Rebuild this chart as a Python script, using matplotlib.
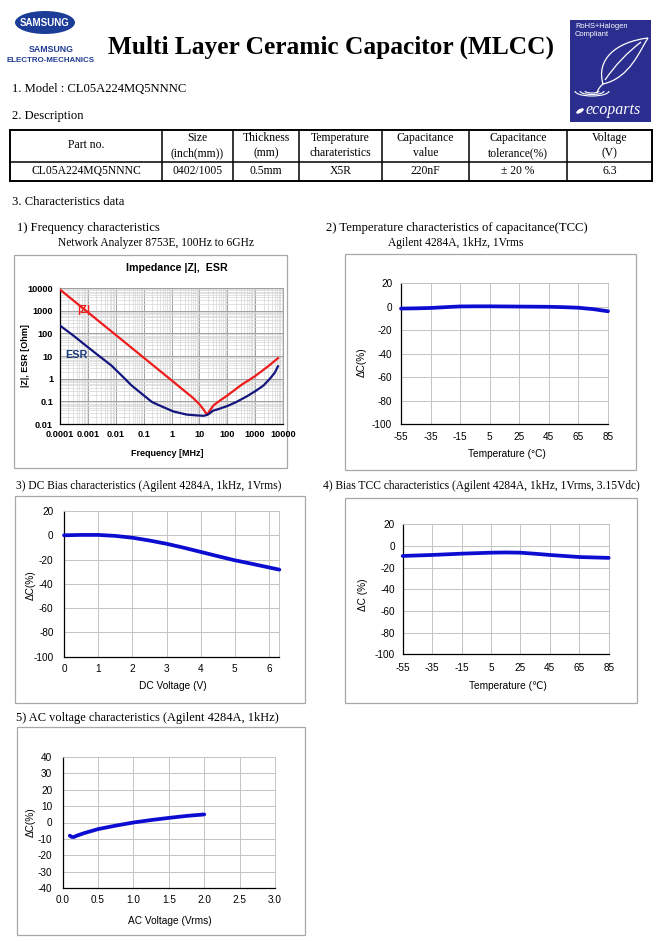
import matplotlib
matplotlib.use("Agg")
import matplotlib.pyplot as plt
from matplotlib.patches import Rectangle, Ellipse, Arc, PathPatch
from matplotlib.path import Path
from matplotlib.lines import Line2D

# ---------------- data ----------------
model = "CL05A224MQ5NNNC"
table_header = ["Part no.", "Size\n(inch(mm))", "Thickness\n(mm)", "Temperature\ncharateristics",
                "Capacitance\nvalue", "Capacitance\ntolerance(%)", "Voltage\n(V)"]
table_row = ["CL05A224MQ5NNNC", "0402/1005", "0.5mm", "X5R", "220nF", "\u00b1 20 %", "6.3"]

# 1) impedance / ESR vs frequency (MHz)
freq_z = [1e-4, 1e-3, 1e-2, 1e-1, 1, 3, 6, 10, 14, 17, 19, 24, 32, 50, 100, 300, 1000, 3000, 6600]
z_vals = [8500, 850, 85, 8.5, 0.85, 0.28, 0.14, 0.075, 0.044, 0.031, 0.026, 0.04, 0.066, 0.1,
          0.18, 0.5, 1.3, 3.6, 8.0]
freq_esr = [1e-4, 3e-4, 1e-3, 3e-3, 7e-3, 0.02, 0.037, 0.1, 0.2, 0.5, 1.15, 3.5, 8, 14, 19, 24,
            30, 47, 100, 210, 500, 1100, 2000, 3400, 5000, 6600]
esr_vals = [220, 80, 24.5, 8.5, 3.8, 1.07, 0.5, 0.185, 0.093, 0.056, 0.036, 0.026, 0.024, 0.023,
            0.025, 0.03, 0.038, 0.045, 0.062, 0.093, 0.165, 0.3, 0.5, 1.0, 1.8, 3.5]
freq_ticks = [1e-4, 1e-3, 1e-2, 1e-1, 1, 10, 100, 1000, 10000]
freq_labels = ["0.0001", "0.001", "0.01", "0.1", "1", "10", "100", "1000", "10000"]
imp_ticks = [0.01, 0.1, 1, 10, 100, 1000, 10000]
imp_labels = ["0.01", "0.1", "1", "10", "100", "1000", "10000"]

# 2) TCC
tcc_temp = [-55, -45, -35, -25, -15, -5, 5, 15, 25, 35, 45, 55, 65, 75, 85]
tcc_dc = [-1.5, -1.3, -1.0, -0.3, 0.3, 0.4, 0.4, 0.3, 0.2, 0.1, 0.0, -0.3, -0.8, -2.0, -3.8]
temp_ticks = [-55, -35, -15, 5, 25, 45, 65, 85]
temp_labels = ["-55", "-35", "-15", "5", "25", "45", "65", "85"]
pct_ticks = [-100, -80, -60, -40, -20, 0, 20]
pct_labels = ["-100", "-80", "-60", "-40", "-20", "0", "20"]

# 3) DC bias
dc_v = [0, 0.5, 1.0, 1.5, 2.0, 2.5, 3.0, 3.5, 4.0, 4.5, 5.0, 5.5, 6.0, 6.3]
dc_dc = [0, 0.3, 0.3, -0.5, -2.0, -4.3, -7.0, -10.2, -13.7, -17.2, -20.6, -23.5, -26.5, -28.3]
dc_ticks = [0, 1, 2, 3, 4, 5, 6]
dc_labels = ["0", "1", "2", "3", "4", "5", "6"]

# 4) Bias TCC
btcc_temp = [-55, -35, -15, 5, 15, 25, 35, 45, 65, 85]
btcc_dc = [-9.2, -8.3, -7.1, -6.2, -6.0, -6.2, -7.2, -8.3, -10.2, -11.0]

# 5) AC voltage
ac_v = [0.1, 0.13, 0.16, 0.2, 0.3, 0.5, 0.75, 1.0, 1.25, 1.5, 1.75, 2.0]
ac_dc = [-8.0, -8.8, -8.8, -8.0, -6.5, -4.0, -1.9, 0.0, 1.5, 2.8, 4.0, 4.9]
ac_ticks = [0.0, 0.5, 1.0, 1.5, 2.0, 2.5, 3.0]
ac_labels = ["0.0", "0.5", "1.0", "1.5", "2.0", "2.5", "3.0"]
ac_pct_ticks = [-40, -30, -20, -10, 0, 10, 20, 30, 40]
ac_pct_labels = ["-40", "-30", "-20", "-10", "0", "10", "20", "30", "40"]

# ---------------- figure helpers ----------------
W, H = 664, 941
plt.rcParams["font.family"] = ["Liberation Sans", "DejaVu Sans"]
fig = plt.figure(figsize=(W / 100, H / 100), dpi=100)
SERIF = ["Liberation Serif", "DejaVu Serif"]


def P(x, y):
    return (x / W, 1 - y / H)


def ftext(x, y, s, size=9, ha="left", family=SERIF, **kw):
    return fig.text(x / W, 1 - y / H, s, ha=ha, va="center", fontsize=size, family=family, **kw)


def add_axes_px(x0, y0, x1, y1):
    return fig.add_axes([x0 / W, 1 - y1 / H, (x1 - x0) / W, (y1 - y0) / H])


def box_px(x0, y0, x1, y1, ec="#a8a8a8", lw=0.9, fc="none", z=0):
    fig.add_artist(Rectangle(P(x0, y1), (x1 - x0) / W, (y1 - y0) / H, transform=fig.transFigure,
                             fill=(fc != "none"), fc=fc, ec=ec, lw=lw, zorder=z))


def hline(x0, x1, y, lw=1.0, color="black"):
    fig.add_artist(Line2D([x0 / W, x1 / W], [1 - y / H, 1 - y / H], transform=fig.transFigure,
                          color=color, lw=lw))


def vline(x, y0, y1, lw=1.0, color="black"):
    fig.add_artist(Line2D([x / W, x / W], [1 - y0 / H, 1 - y1 / H], transform=fig.transFigure,
                          color=color, lw=lw))


# ---------------- header ----------------
NAVY = "#1f3a93"
fig.add_artist(Ellipse(P(45, 22.5), 60 / W, 23 / H, transform=fig.transFigure, fc="#1b3c97", ec="none"))
ftext(45, 22.5, "SAMSUNG", size=7.0, ha="center", family=["Liberation Sans"], color="white", weight="bold")
ftext(51, 50, "SAMSUNG", size=6.3, ha="center", family=["Liberation Sans"], color=NAVY, weight="bold")
ftext(51, 61, "ELECTRO-MECHANICS", size=5.7, ha="center", family=["Liberation Sans"], color=NAVY, weight="bold")

ftext(108, 47, "Multi Layer Ceramic Capacitor (MLCC)", size=18.3, weight="bold")

# RoHS / ecoparts badge
box_px(570, 20, 651, 122, ec="none", fc="#2b2e8f", z=1)
ftext(575, 27, "RoHS+Halogen", size=5.4, family=["Liberation Sans"], color="white", zorder=3)
ftext(575, 35, "Compliant", size=5.4, family=["Liberation Sans"], color="white", zorder=3)
leaf_pts = [(603, 84), (596, 60), (615, 42), (648, 38), (640, 50), (630, 78), (603, 84),
            (605, 80), (620, 58), (641, 42), (603, 84), (598, 88), (597, 93)]
leaf_codes = [Path.MOVETO, Path.CURVE4, Path.CURVE4, Path.CURVE4, Path.CURVE4, Path.CURVE4, Path.CURVE4,
              Path.MOVETO, Path.CURVE3, Path.CURVE3, Path.MOVETO, Path.CURVE3, Path.CURVE3]
leaf = Path([P(x, y) for x, y in leaf_pts], leaf_codes)
fig.add_artist(PathPatch(leaf, transform=fig.transFigure, fc="none", ec="white", lw=0.9, zorder=3))
for w, h in [(14, 4), (24, 7), (34, 10)]:
    fig.add_artist(Arc(P(592, 91), w / W, h / H, theta1=180, theta2=360, transform=fig.transFigure,
                       color="white", lw=0.8, zorder=3))
fig.add_artist(Ellipse(P(580, 111), 8 / W, 4 / H, angle=20, transform=fig.transFigure, fc="white",
                       ec="none", zorder=3))
ftext(585, 110, "ecoparts", size=11.5, family=SERIF, style="italic", color="white", zorder=3)

ftext(12, 89, "1. Model : " + model, size=9.1)
ftext(12, 116, "2. Description", size=9.1)

# ---------------- table ----------------
col_x = [10, 162, 233, 299, 382, 469, 567, 652]
row_y = [129.5, 161.5, 181]
hline(col_x[0], col_x[-1], row_y[0], lw=1.4)
hline(col_x[0], col_x[-1], row_y[1], lw=1.1)
hline(col_x[0], col_x[-1], row_y[2], lw=1.4)
for i, cx in enumerate(col_x):
    vline(cx, row_y[0], row_y[2], lw=1.4 if i in (0, len(col_x) - 1) else 1.1)
for i, txt in enumerate(table_header):
    cx = (col_x[i] + col_x[i + 1]) / 2
    lines = txt.split("\n")
    if len(lines) == 1:
        ftext(cx, 145.5, lines[0], size=8.4, ha="center")
    else:
        ftext(cx, 138, lines[0], size=8.4, ha="center")
        ftext(cx, 153, lines[1], size=8.4, ha="center")
for i, txt in enumerate(table_row):
    cx = (col_x[i] + col_x[i + 1]) / 2
    ftext(cx, 171.5, txt, size=8.4, ha="center")

ftext(12, 202, "3. Characteristics data", size=9.1)

# ---------------- section titles ----------------
ftext(17, 228, "1) Frequency characteristics", size=9.1)
ftext(58, 243, "Network Analyzer 8753E, 100Hz to 6GHz", size=8.3)
ftext(326, 228, "2) Temperature characteristics of capacitance(TCC)", size=9.1)
ftext(388, 243, "Agilent 4284A, 1kHz, 1Vrms", size=8.3)
ftext(16, 486, "3) DC Bias characteristics (Agilent 4284A, 1kHz, 1Vrms)", size=8.3)
ftext(323, 486, "4) Bias TCC characteristics (Agilent 4284A, 1kHz, 1Vrms, 3.15Vdc)", size=8.3)
ftext(16, 718, "5) AC voltage characteristics (Agilent 4284A, 1kHz)", size=8.9)

# ---------------- chart 1: impedance ----------------
box_px(14, 255, 287, 468)
ax1 = add_axes_px(60, 288, 283, 424)
ax1.set_xscale("log")
ax1.set_yscale("log")
ax1.set_xlim(1e-4, 1e4)
ax1.set_ylim(0.01, 10000)
ax1.plot(freq_z, z_vals, color="#ee1c1c", lw=1.6, zorder=3)
ax1.plot(freq_esr, esr_vals, color="#15157e", lw=1.6, zorder=3)
ax1.set_xticks(freq_ticks, freq_labels)
ax1.set_yticks(imp_ticks, imp_labels)
ax1.grid(which="major", color="#a0a0a0", lw=0.7)
ax1.grid(which="minor", color="#d6d6d6", lw=0.5)
ax1.set_axisbelow(True)
ax1.tick_params(which="both", length=0, labelsize=6.6, pad=4)
ax1.tick_params(axis="y", pad=5)
for lab in ax1.get_xticklabels() + ax1.get_yticklabels():
    lab.set_fontweight("bold")
for s in ["left", "bottom"]:
    ax1.spines[s].set_color("black")
    ax1.spines[s].set_linewidth(0.9)
for s in ["top", "right"]:
    ax1.spines[s].set_color("#a0a0a0")
    ax1.spines[s].set_linewidth(0.7)
ax1.text(0.075, 0.84, "|Z|", transform=ax1.transAxes, color="#ee1c1c", fontsize=8, weight="bold",
         ha="left", va="center")
ax1.text(0.022, 0.51, "ESR", transform=ax1.transAxes, color="#1a3a80", fontsize=7.8, weight="bold",
         ha="left", va="center")
ftext(177, 268, "Impedance |Z|,  ESR", size=7.7, ha="center", family=["Liberation Sans"], weight="bold")
ax1.set_xlabel("Frequency [MHz]", fontsize=6.5, weight="bold", va="center")
ax1.xaxis.set_label_coords(*P(167, 454), transform=fig.transFigure)
ax1.set_ylabel("|Z|, ESR [Ohm]", fontsize=6.5, weight="bold", va="center")
ax1.yaxis.set_label_coords(*P(25, 356), transform=fig.transFigure)


# ---------------- simple charts ----------------
def simple_chart(box, plot, xs, ys, xlim, ylim, xt, xtl, yt, ytl, xlabel, ylabel,
                 xlab_pos, ylab_pos, padx, pady):
    box_px(*box)
    ax = add_axes_px(*plot)
    ax.plot(xs, ys, color="#0d0dd2", lw=2.7, solid_capstyle="round", zorder=3, clip_on=False)
    ax.set_xlim(*xlim)
    ax.set_ylim(*ylim)
    ax.set_xticks(xt, xtl)
    ax.set_yticks(yt, ytl)
    ax.grid(color="#c4c4c4", lw=0.7)
    ax.set_axisbelow(True)
    ax.tick_params(length=0, labelsize=7.2)
    ax.tick_params(axis="x", pad=padx)
    ax.tick_params(axis="y", pad=pady)
    for s in ["left", "bottom"]:
        ax.spines[s].set_color("black")
        ax.spines[s].set_linewidth(0.9)
    for s in ["top", "right"]:
        ax.spines[s].set_color("#c4c4c4")
        ax.spines[s].set_linewidth(0.7)
    ax.set_xlabel(xlabel, fontsize=7.3, va="center")
    ax.xaxis.set_label_coords(*P(*xlab_pos), transform=fig.transFigure)
    ax.set_ylabel(ylabel, fontsize=7.3, va="center")
    ax.yaxis.set_label_coords(*P(*ylab_pos), transform=fig.transFigure)
    return ax


simple_chart((345, 254, 636, 470), (401, 283.3, 608, 424.3), tcc_temp, tcc_dc, (-55, 85), (-100, 20),
             temp_ticks, temp_labels, pct_ticks, pct_labels, "Temperature (\u00b0C)", "\u0394C(%)",
             (507, 454), (362, 362), 5.5, 6.3)
simple_chart((15, 496, 305, 703), (64, 511, 279.3, 656.7), dc_v, dc_dc, (0, 6.3), (-100, 20),
             dc_ticks, dc_labels, pct_ticks, pct_labels, "DC Voltage (V)", "\u0394C(%)",
             (173, 686), (31, 585), 5.0, 7.5)
simple_chart((345, 498, 637, 703), (402.7, 524.3, 608.7, 654.3), btcc_temp, btcc_dc, (-55, 85), (-100, 20),
             temp_ticks, temp_labels, pct_ticks, pct_labels, "Temperature (\u2103)", "\u0394C (%)",
             (508, 686), (363, 595), 6.0, 5.5)
simple_chart((17, 727, 305, 935), (62.7, 756.7, 275, 888.3), ac_v, ac_dc, (0, 3.0), (-40, 40),
             ac_ticks, ac_labels, ac_pct_ticks, ac_pct_labels, "AC Voltage (Vrms)", "\u0394C(%)",
             (170, 921), (31, 822), 5.0, 7.5)

fig.savefig("out.png", dpi=100)
